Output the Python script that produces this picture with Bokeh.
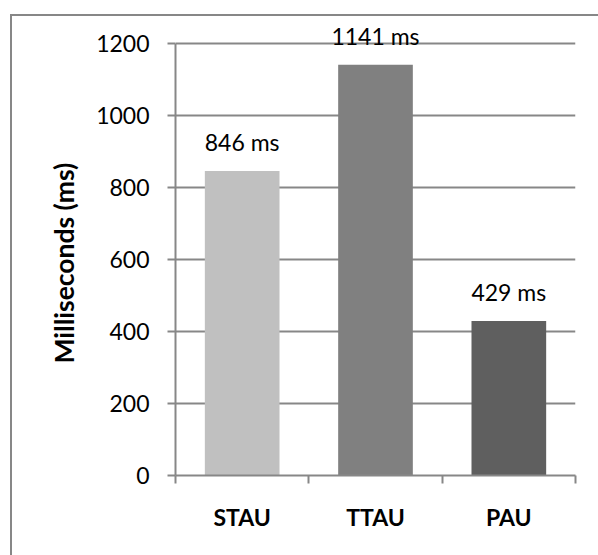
from bokeh.plotting import figure
from bokeh.models import ColumnDataSource, FixedTicker, Range1d, InlineStyleSheet, Title
from bokeh.core.properties import value
from bokeh.embed import file_html
from bokeh.resources import INLINE

categories = ["STAU", "TTAU", "PAU"]
times_ms = [846, 1141, 429]
bar_colors = ["#C0C0C0", "#808080", "#5F5F5F"]
y_ticks = [0, 200, 400, 600, 800, 1000, 1200]
y_max = 1200
y_title = "Milliseconds (ms)"

FONT = "Lato"
GRID = "#878787"

xs = [i + 0.5 for i in range(len(categories))]
labels = [f"{v} ms" for v in times_ms]
src = ColumnDataSource(dict(x=xs, top=times_ms, color=bar_colors, label=labels))

# the frame reaches above the 1200 line so the top data label is not clipped
px_per_unit = 432 / y_max
headroom = 36  # px above the 1200 line
p = figure(width=598, height=555, frame_width=400, frame_height=432 + headroom,
           min_border_left=175, min_border_right=23, min_border_top=43 - headroom, min_border_bottom=80,
           x_range=Range1d(0, len(categories)), y_range=Range1d(0, y_max + headroom / px_per_unit),
           output_backend="svg", toolbar_location=None)
p.outline_line_color = None
p.background_fill_color = "white"
p.border_fill_color = "white"

p.vbar(x="x", top="top", width=0.56, bottom=0, color="color", line_color=None, source=src)
p.text(x="x", y="top", text="label", source=src, text_align="center", text_baseline="alphabetic",
       y_offset=-29, text_font=value(FONT), text_font_size="23px", text_color="black")

# y axis
p.yaxis.ticker = FixedTicker(ticks=y_ticks)
p.yaxis.bounds = (0, y_max)
p.yaxis.axis_line_color = GRID
p.yaxis.axis_line_width = 2
p.yaxis.major_tick_line_color = GRID
p.yaxis.major_tick_line_width = 2
p.yaxis.major_tick_out = 8
p.yaxis.major_tick_in = 0
p.yaxis.minor_tick_line_color = None
p.yaxis.major_label_text_font = FONT
p.yaxis.major_label_text_font_size = "23px"
p.yaxis.major_label_text_color = "black"
p.yaxis.major_label_standoff = 18

# y-axis title, centred on the 0..1200 span (not on the taller frame)
ytitle = Title(text=y_title, align="left", offset=112, text_font=FONT, text_font_size="26.5px",
               text_font_style="bold", text_color="black", standoff=27)
p.add_layout(ytitle, "left")

# x axis: labels at centres, tick marks at category boundaries
p.xaxis.ticker = FixedTicker(ticks=xs, minor_ticks=list(range(len(categories) + 1)))
p.xaxis.major_label_overrides = {x: c for x, c in zip(xs, categories)}
p.xaxis.axis_line_color = GRID
p.xaxis.axis_line_width = 2
p.xaxis.major_tick_line_color = None
p.xaxis.minor_tick_line_color = GRID
p.xaxis.minor_tick_line_width = 2
p.xaxis.minor_tick_out = 8
p.xaxis.minor_tick_in = 0
p.xaxis.major_label_text_font = FONT
p.xaxis.major_label_text_font_size = "23px"
p.xaxis.major_label_text_font_style = "bold"
p.xaxis.major_label_text_color = "black"
p.xaxis.major_label_standoff = 19

p.xgrid.grid_line_color = None
p.ygrid.ticker = FixedTicker(ticks=y_ticks)
p.ygrid.grid_line_color = GRID
p.ygrid.grid_line_width = 2

# chart-area border: only its left and top edges fall inside the window
p.stylesheets = [InlineStyleSheet(css=f"""
:host::after {{
  content: "";
  position: absolute;
  left: 10px; top: 14px; right: 0; bottom: 0;
  border-left: 2px solid {GRID};
  border-top: 2px solid {GRID};
  pointer-events: none;
  z-index: 100;
}}
""")]

open("out.html", "w").write(file_html(p, INLINE))
